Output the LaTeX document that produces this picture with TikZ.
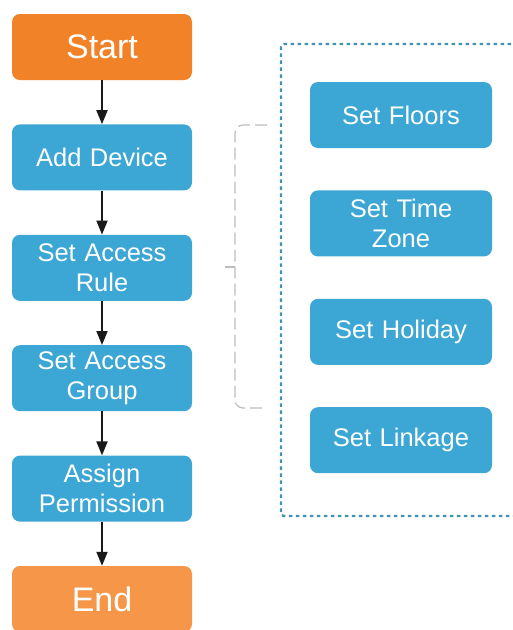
\documentclass[tikz,border=0pt]{standalone}
\usepackage{fontspec}
\setmainfont{Liberation Sans}
\usetikzlibrary{
  arrows.meta,
  positioning
}
\definecolor{startorange}{RGB}{242, 130, 40}
\definecolor{endorange}{RGB}{246, 150, 72}
\definecolor{stepblue}{RGB}{60, 166, 212}
\definecolor{frameteal}{RGB}{66, 146, 180}
\definecolor{bracegray}{RGB}{190, 190, 190}
\tikzset{
  % Process blocks
  stepbox/.style  = {rectangle, rounded corners=8pt, fill=stepblue, text=white,
                     font=\fontsize{25.5}{30}\selectfont, align=center,
                     text width=176pt, minimum width=180pt, minimum height=66pt, inner sep=1pt},
  termbox/.style  = {stepbox, fill=startorange, font=\fontsize{34}{38}\selectfont},
  subbox/.style   = {stepbox, text width=178pt, minimum width=182pt},
  % Connectors
  flowarrow/.style = {-{Triangle[length=14pt, width=11pt]}, line width=1.8pt, black!90},
  % Frame and brace
  frameline/.style = {frameteal, line width=2.4pt, dash pattern=on 3.5pt off 3.5pt, rounded corners=3pt},
  braceline/.style = {bracegray, line width=1.2pt, dash pattern=on 12pt off 5pt, rounded corners=8pt},
}
\begin{document}
\begin{tikzpicture}[x=1pt, y=-1pt]
  \useasboundingbox[fill=white] (0,0) rectangle (513,630);
  % Main flow
  \node[termbox] (start) at (102,47) {Start};
  \node[stepbox, below=44pt of start] (adddev) {Add Device};
  \node[stepbox, below=44pt of adddev] (rule) {Set Access\\Rule};
  \node[stepbox, below=44pt of rule] (group) {Set Access\\Group};
  \node[stepbox, below=44pt of group] (assign) {Assign\\Permission};
  \node[termbox, fill=endorange, below=44pt of assign] (finish) {End};
  % Arrows
  \draw[flowarrow] (start) -- (adddev);
  \draw[flowarrow] (adddev) -- (rule);
  \draw[flowarrow] (rule) -- (group);
  \draw[flowarrow] (group) -- (assign);
  \draw[flowarrow] (assign) -- (finish);
  % Sub-steps
  \node[subbox] (floors) at (401,115) {Set Floors};
  \node[subbox, below=42pt of floors] (timezone) {Set Time\\Zone};
  \node[subbox, below=42pt of timezone] (holiday) {Set Holiday};
  \node[subbox, below=42pt of holiday] (linkage) {Set Linkage};
  % Dotted frame
  \draw[frameline] (525,44) -- (281,44) -- (281,516) -- (525,516);
  % Brace
  \coordinate (braceTop) at (267,125);
  \coordinate (braceBot) at (267,408);
  \draw[braceline] (braceTop) -- (235,125) -- (235,408) -- (braceBot);
  \draw[bracegray, line width=1.2pt] (235,267) -- (225,267);
\end{tikzpicture}
\end{document}
